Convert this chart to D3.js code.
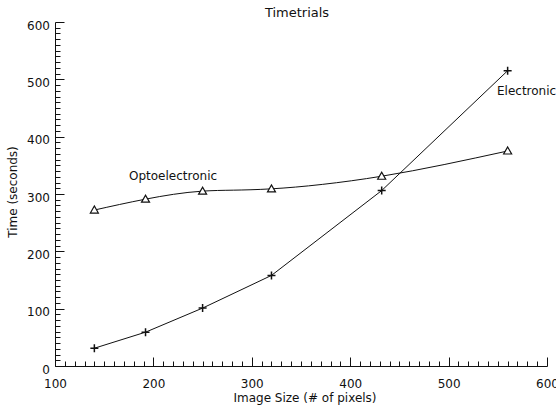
<!DOCTYPE html>
<html>
<head>
<meta charset="utf-8">
<script src="https://cdn.jsdelivr.net/npm/d3@7"></script>
<style>
  body { margin: 0; background: #fff; }
  text { font-family: "DejaVu Sans", sans-serif; fill: #111; }
</style>
</head>
<body>
<script>
// data
const imageSize = [140, 192, 250, 320, 432, 560];
const electronic = [31, 59, 101, 158, 306, 515];
const optoelectronic = [272, 291, 305, 309, 331, 375];
const xTicks = [100, 200, 300, 400, 500, 600];
const yTicks = [0, 100, 200, 300, 400, 500, 600];

const width = 556;
const height = 409;
const margin = { top: 22, right: 9, bottom: 43, left: 55 };

const svg = d3.select('body')
  .append('svg')
  .attr('width', width)
  .attr('height', height);

const x = d3.scaleLinear()
  .domain([100, 600])
  .range([margin.left, width - margin.right]);

const y = d3.scaleLinear()
  .domain([0, 600])
  .range([height - margin.bottom, margin.top]);

const x0 = Math.round(x(100)) + 0.5;
const y0 = Math.round(y(0)) + 0.5;

// tick marks pointing into the plot, every 10 units, longer at the labels
const ticks = svg.append('g')
  .attr('stroke', '#111')
  .attr('stroke-width', 1);

ticks.selectAll('.xt')
  .data(d3.range(100, 601, 10))
  .enter()
  .append('line')
  .attr('x1', d => Math.round(x(d)) + 0.5)
  .attr('x2', d => Math.round(x(d)) + 0.5)
  .attr('y1', y0)
  .attr('y2', d => y0 - (d % 100 === 0 ? 9 : 5));

ticks.selectAll('.yt')
  .data(d3.range(0, 601, 10))
  .enter()
  .append('line')
  .attr('y1', d => Math.round(y(d)) + 0.5)
  .attr('y2', d => Math.round(y(d)) + 0.5)
  .attr('x1', x0)
  .attr('x2', d => x0 + (d % 100 === 0 ? 9 : 5));

// axis lines and labels
svg.append('g')
  .attr('transform', `translate(0, ${y(0)})`)
  .call(d3.axisBottom(x).tickValues(xTicks).tickSize(0).tickPadding(13))
  .call(g => g.selectAll('path').attr('stroke', '#111'))
  .call(g => g.selectAll('text').attr('font-size', 12).attr('font-family', null));

svg.append('g')
  .attr('transform', `translate(${x(100)}, 0)`)
  .call(d3.axisLeft(y).tickValues(yTicks).tickSize(0).tickPadding(5))
  .call(g => g.selectAll('path').attr('stroke', '#111'))
  .call(g => g.selectAll('text').attr('font-size', 12).attr('font-family', null).attr('dy', '0.6em'));

// lines
const elecLine = d3.line()
  .x((d, i) => x(imageSize[i]))
  .y(d => y(d));

const optoLine = d3.line()
  .x((d, i) => x(imageSize[i]))
  .y(d => y(d))
  .curve(d3.curveNatural);

svg.append('path')
  .attr('d', elecLine(electronic))
  .attr('fill', 'none')
  .attr('stroke', '#111')
  .attr('stroke-width', 1);

svg.append('path')
  .attr('d', optoLine(optoelectronic))
  .attr('fill', 'none')
  .attr('stroke', '#111')
  .attr('stroke-width', 1);

// plus markers
svg.selectAll('.plus')
  .data(electronic)
  .enter()
  .append('path')
  .attr('class', 'plus')
  .attr('d', (d, i) => {
    const cx = x(imageSize[i]), cy = y(d);
    return `M${cx - 4},${cy}H${cx + 4}M${cx},${cy - 4}V${cy + 4}`;
  })
  .attr('stroke', '#111')
  .attr('stroke-width', 1.5);

// triangle markers
svg.selectAll('.tri')
  .data(optoelectronic)
  .enter()
  .append('path')
  .attr('class', 'tri')
  .attr('d', (d, i) => {
    const cx = x(imageSize[i]), cy = y(d);
    return `M${cx - 4},${cy + 3}L${cx + 4},${cy + 3}L${cx},${cy - 4}Z`;
  })
  .attr('fill', '#fff')
  .attr('stroke', '#111')
  .attr('stroke-width', 1.2);

// labels
svg.append('text')
  .attr('x', 129)
  .attr('y', 180)
  .attr('font-size', 12)
  .text('Optoelectronic');

svg.append('text')
  .attr('x', 497)
  .attr('y', 95)
  .attr('font-size', 12)
  .text('Electronic');

svg.append('text')
  .attr('x', 297)
  .attr('y', 17)
  .attr('text-anchor', 'middle')
  .attr('font-size', 13)
  .text('Timetrials');

svg.append('text')
  .attr('x', 305)
  .attr('y', 402)
  .attr('text-anchor', 'middle')
  .attr('font-size', 12)
  .text('Image Size (# of pixels)');

svg.append('text')
  .attr('transform', 'translate(17, 192) rotate(-90)')
  .attr('text-anchor', 'middle')
  .attr('font-size', 12)
  .text('Time (seconds)');
</script>
</body>
</html>
